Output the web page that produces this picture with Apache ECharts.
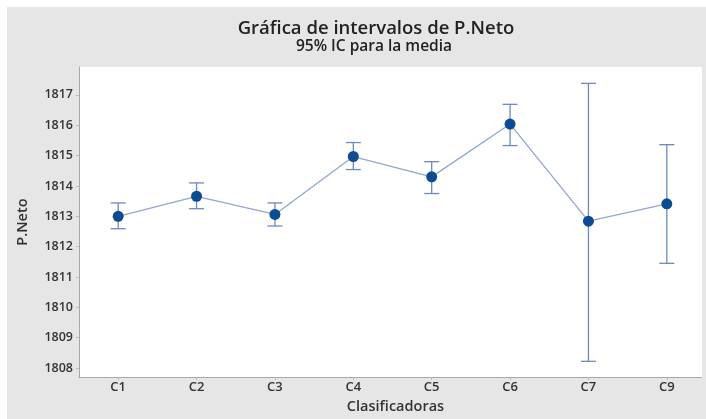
<!DOCTYPE html>
<html><head><meta charset="utf-8">
<script src="https://cdn.jsdelivr.net/npm/echarts@6/dist/echarts.min.js"></script>
<style>
html,body{margin:0;padding:0;background:#fff;}
#wrap{position:relative;width:706px;height:419px;overflow:hidden;}
#bg{position:absolute;left:7px;top:7px;right:0;bottom:0;background:#e6e6e6;}
#chart{position:absolute;left:0;top:0;width:706px;height:419px;}
</style></head>
<body>
<div id="wrap"><div id="bg"></div><div id="chart"></div></div>
<script>
const categories = ['C1','C2','C3','C4','C5','C6','C7','C9'];
const means = [1813.00, 1813.66, 1813.06, 1814.97, 1814.30, 1816.04, 1812.84, 1813.41];
const lower = [1812.59, 1813.25, 1812.68, 1814.54, 1813.75, 1815.33, 1808.22, 1811.45];
const upper = [1813.44, 1814.10, 1813.44, 1815.43, 1814.80, 1816.69, 1817.38, 1815.36];
const yTicks = [1808,1809,1810,1811,1812,1813,1814,1815,1816,1817];

const FONT = '"Open Sans", "Noto Sans", sans-serif';
const errData = categories.map((c,i)=>[i, lower[i], upper[i]]);
const chart = echarts.init(document.getElementById('chart'), null, {renderer:'canvas'});
chart.setOption({
  backgroundColor: 'transparent',
  animation: false,
  title: [{
    text: 'Gráfica de intervalos de P.Neto',
    left: 371, top: 14, textAlign: 'center',
    textStyle: {fontFamily: FONT, fontSize: 18.5, fontWeight: 600, color: '#222'}
  },{
    text: '95% IC para la media',
    left: 369, top: 34, textAlign: 'center',
    textStyle: {fontFamily: FONT, fontSize: 15.5, fontWeight: 600, color: '#222'}
  }],
  grid: {left: 79, right: -4, top: 67, bottom: 41, show: true, backgroundColor: '#fff', borderWidth: 0},
  graphic: [{type:'rect', right: 0, top: 67, shape:{width:4, height:311}, style:{fill:'#e6e6e6'}, z: 100}],
  xAxis: {
    type: 'category', data: categories, boundaryGap: true,
    name: 'Clasificadoras', nameLocation: 'middle', nameGap: 19,
    nameTextStyle: {fontFamily: FONT, fontSize: 14.5, fontWeight: 600, color: '#333', padding:[0,0,0,6]},
    axisLine: {lineStyle: {color: '#a8a8a8', width: 1}},
    axisTick: {show: true, alignWithLabel: true, length: 3, lineStyle:{color:'#bbb'}},
    axisLabel: {fontFamily: FONT, fontSize: 13, fontWeight: 600, color: '#333', margin: 4},
    splitLine: {show: false}
  },
  yAxis: {
    type: 'value', min: 1807.7, max: 1817.92,
    name: 'P.Neto', nameLocation: 'middle', nameGap: 49, nameRotate: 90,
    nameTextStyle: {fontFamily: FONT, fontSize: 14.5, fontWeight: 600, color: '#333'},
    axisLine: {show: true, lineStyle: {color: '#a8a8a8', width: 1}},
    axisTick: {show: true, length: 3, customValues: yTicks, lineStyle:{color:'#bbb'}},
    axisLabel: {fontFamily: FONT, fontSize: 12.5, fontWeight: 600, color: '#333', margin: 6,
      customValues: yTicks, formatter: v => String(Math.round(v))},
    splitLine: {show: false}
  },
  series: [
    {
      type: 'custom',
      data: errData,
      z: 2,
      renderItem: function(params, api){
        const x = api.value(0);
        const lo = api.coord([x, api.value(1)]);
        const hi = api.coord([x, api.value(2)]);
        const hw = 7.5;
        const st = {stroke: '#6f8ab8', lineWidth: 1.3};
        return {type:'group', children:[
          {type:'line', shape:{x1:lo[0], y1:lo[1], x2:hi[0], y2:hi[1]}, style: st},
          {type:'line', shape:{x1:lo[0]-hw, y1:lo[1], x2:lo[0]+hw, y2:lo[1]}, style: st},
          {type:'line', shape:{x1:hi[0]-hw, y1:hi[1], x2:hi[0]+hw, y2:hi[1]}, style: st}
        ]};
      }
    },
    {
      type: 'line', data: means, z: 3,
      symbol: 'circle', symbolSize: 11,
      itemStyle: {color: '#0d4b93'},
      lineStyle: {color: '#93a7c8', width: 1.3}
    }
  ]
});
</script>
</body></html>
